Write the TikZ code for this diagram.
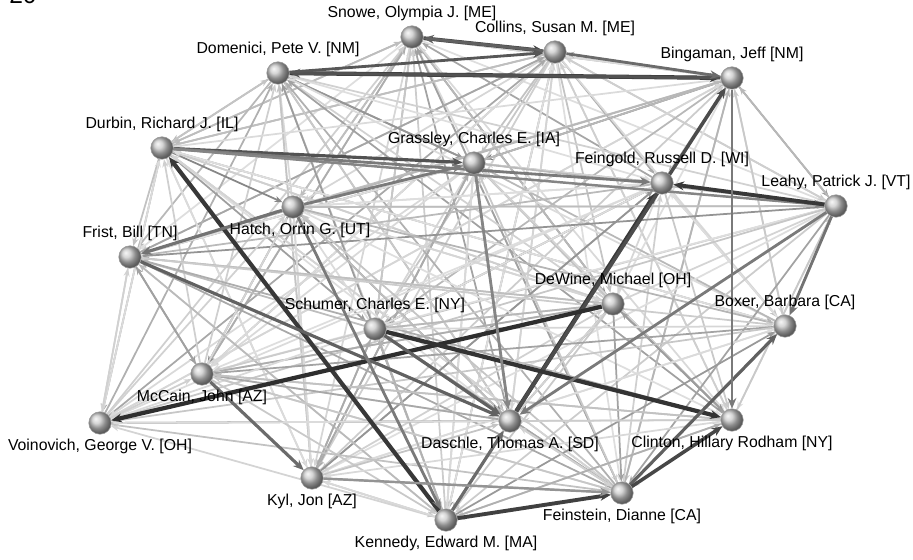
\documentclass[tikz,border=0pt]{standalone}
\usepackage{fontspec}
\setmainfont{Liberation Sans}
\usetikzlibrary{arrows.meta,backgrounds}

\tikzset{
  senator/.style={circle,minimum size=0.45cm,inner sep=0pt,ball color=black!22,draw=black!40,line width=0.3pt},
  tie/.style={line width=1pt,-{Stealth[length=4.5pt,width=3.5pt]}},
  strongtie/.style={-{Stealth[length=6pt,width=5pt]}},
  every label/.style={font=\fontsize{9}{10}\selectfont,inner sep=2.5pt},
}
\def\senators{snowe,collins,domenici,bingaman,durbin,grassley,feingold,leahy,hatch,frist,dewine,boxer,schumer,mccain,voinovich,daschle,clinton,kyl,feinstein,kennedy}

\begin{document}
\begin{tikzpicture}[x=0.02cm,y=-0.02cm]
\useasboundingbox (0,0) rectangle (913,560);
\begin{scope}
\clip (0,0) rectangle (913,560);
\node[anchor=base,font=\fontsize{14}{14}\selectfont] (pagenum) at (23,4) {20};
\end{scope}

% senators
\node[senator,label={above:{Snowe, Olympia J. [ME]}}] (snowe) at (412,37) {};
\node[senator,label={above:{Collins, Susan M. [ME]}}] (collins) at (555,52) {};
\node[senator,label={above:{Domenici, Pete V. [NM]}}] (domenici) at (278,73) {};
\node[senator,label={above:{Bingaman, Jeff [NM]}}] (bingaman) at (732,78) {};
\node[senator,label={above:{Durbin, Richard J. [IL]}}] (durbin) at (162,148) {};
\node[senator,label={above:{Grassley, Charles E. [IA]}}] (grassley) at (474,163) {};
\node[senator,label={above:{Feingold, Russell D. [WI]}}] (feingold) at (662,183) {};
\node[senator,label={above:{Leahy, Patrick J. [VT]}}] (leahy) at (836,206) {};
\node[senator,label={[xshift=0.14cm]below:{Hatch, Orrin G. [UT]}}] (hatch) at (293,207) {};
\node[senator,label={above:{Frist, Bill [TN]}}] (frist) at (130,257) {};
\node[senator,label={above:{DeWine, Michael [OH]}}] (dewine) at (613,304) {};
\node[senator,label={above:{Boxer, Barbara [CA]}}] (boxer) at (785,326) {};
\node[senator,label={above:{Schumer, Charles E. [NY]}}] (schumer) at (375,329) {};
\node[senator,label={below:{McCain, John [AZ]}}] (mccain) at (202,374) {};
\node[senator,label={below:{Voinovich, George V. [OH]}}] (voinovich) at (100,423) {};
\node[senator,label={below:{Daschle, Thomas A. [SD]}}] (daschle) at (510,421) {};
\node[senator,label={below:{Clinton, Hillary Rodham [NY]}}] (clinton) at (732,420) {};
\node[senator,label={below:{Kyl, Jon [AZ]}}] (kyl) at (312,478) {};
\node[senator,label={below:{Feinstein, Dianne [CA]}}] (feinstein) at (622,493) {};
\node[senator,label={below:{Kennedy, Edward M. [MA]}}] (kennedy) at (446,520) {};

% cosponsorship ties
\begin{pgfonlayer}{background}
\pgfmathsetseed{20}
\foreach \a [count=\i] in \senators {
  \foreach \b [count=\j] in \senators {
    \ifnum\i<\j
      \pgfmathtruncatemacro\keep{100*rnd}
      \pgfmathtruncatemacro\shade{13+40*rnd*rnd}
      \pgfmathtruncatemacro\back{13+40*rnd*rnd}
      \pgfmathtruncatemacro\dir{4*rnd}
      \ifnum\keep<95
        \ifcase\dir
          \draw[tie,black!\shade] (\a) -- (\b);
        \or
          \draw[tie,black!\shade] (\b) -- (\a);
        \else
          \draw[tie,black!\shade] (\a) -- (\b);
          \draw[tie,black!\back] (\b) -- (\a);
        \fi
      \fi
    \fi
  }
}
% strong ties
\foreach \a/\b/\s/\w in {snowe/collins/72/2.2, collins/snowe/62/1.6,
    domenici/bingaman/78/2.4, bingaman/domenici/68/1.8,
    domenici/collins/66/1.6, collins/bingaman/58/1.6,
    durbin/grassley/68/1.8, kennedy/durbin/78/2.4,
    durbin/feingold/52/1.6, durbin/leahy/48/1.4,
    leahy/feingold/78/2.2, daschle/feingold/78/2.4,
    daschle/bingaman/70/2, dewine/voinovich/82/2.4,
    mccain/kyl/58/1.8, schumer/clinton/80/2.4,
    feinstein/boxer/62/1.8, kennedy/feinstein/75/2.2,
    feinstein/clinton/72/2, kennedy/daschle/58/1.8,
    frist/daschle/62/1.8, hatch/frist/55/1.8,
    leahy/boxer/55/1.6, bingaman/clinton/52/1.6,
    grassley/daschle/48/1.6, leahy/daschle/52/1.6,
    hatch/grassley/52/1.6, hatch/kennedy/52/1.6,
    kyl/feinstein/42/1.4, schumer/daschle/62/1.8}
  \draw[strongtie,line width=\w pt,black!\s] (\a) -- (\b);
\end{pgfonlayer}
\end{tikzpicture}
\end{document}
